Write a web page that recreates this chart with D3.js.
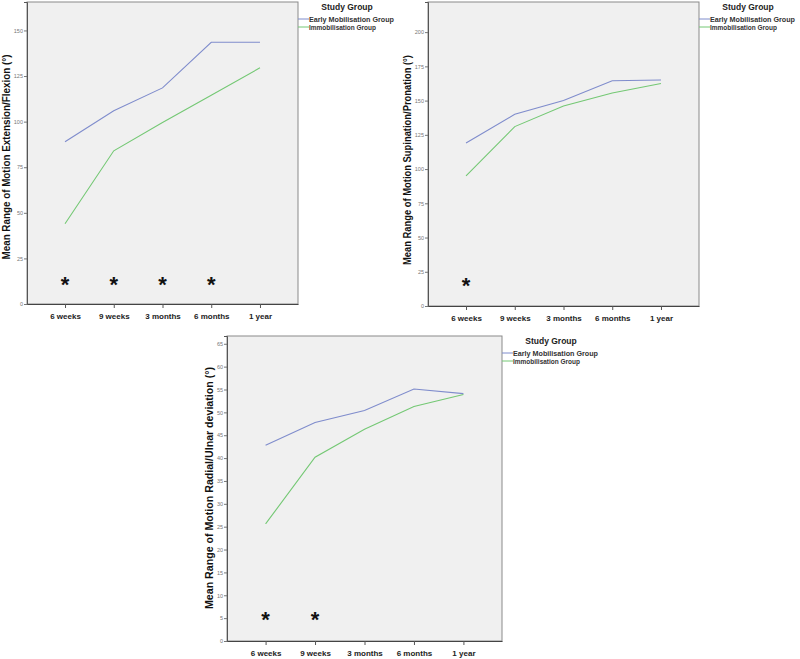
<!DOCTYPE html>
<html><head><meta charset="utf-8">
<script src="https://cdn.jsdelivr.net/npm/d3@7/dist/d3.min.js"></script>
<style>body{margin:0;background:#fff}svg{display:block;font-family:"Liberation Sans",Arial,sans-serif}</style>
</head><body><svg id="c" width="800" height="659"></svg>
<script>
const categories = ["6 weeks","9 weeks","3 months","6 months","1 year"];
const seriesNames = ["Early Mobilisation Group","Immobilisation Group"];
const legendTitle = "Study Group";
// Panel 1: Extension/Flexion
const p1Early = [89, 106, 118.5, 143.5, 143.5];
const p1Immob = [44, 84, 99.5, 114.5, 129.5];
const p1Ticks = [0,25,50,75,100,125,150];
const p1Stars = ["6 weeks","9 weeks","3 months","6 months"];
const p1StarValue = 12.5;
// Panel 2: Supination/Pronation
const p2Early = [119, 140, 150, 164.5, 165];
const p2Immob = [95, 131, 146, 155.5, 162.5];
const p2Ticks = [0,25,50,75,100,125,150,175,200];
const p2Stars = ["6 weeks"];
const p2StarValue = 17.5;
// Panel 3: Radial/Ulnar deviation
const p3Early = [42.8, 47.8, 50.4, 55.1, 54.1];
const p3Immob = [25.6, 40.2, 46.3, 51.3, 53.9];
const p3Ticks = [0,5,10,15,20,25,30,35,40,45,50,55,60,65];
const p3Stars = ["6 weeks","9 weeks"];
const p3StarValue = 5.5;

const colors = ["#7f8ccc","#74c874"];
const svg = d3.select("#c");

function panel(o){
  const g = svg.append("g");
  const x = d3.scalePoint().domain(categories).range([o.l,o.r]).padding(0.78);
  const y = d3.scaleLinear().domain([0,o.ymax]).range([o.b,o.t]);
  g.append("rect").attr("x",o.l).attr("y",o.t).attr("width",o.r-o.l).attr("height",o.b-o.t)
    .attr("fill","#f0f0f0").attr("stroke","#8a8a8a").attr("stroke-width",1);
  // y axis
  const ya = g.append("g").attr("transform",`translate(${o.l},0)`)
    .call(d3.axisLeft(y).tickValues(o.ticks).tickSize(3).tickPadding(1).tickFormat(d3.format("d")));
  ya.select(".domain").attr("stroke","#555");
  ya.selectAll(".tick line").attr("stroke","#777");
  ya.selectAll("text").attr("font-size",5.5).attr("fill","#777");
  // x axis
  const xa = g.append("g").attr("transform",`translate(0,${o.b})`)
    .call(d3.axisBottom(x).tickSize(4).tickPadding(5).tickSizeOuter(0));
  xa.select(".domain").attr("stroke","#444");
  xa.selectAll(".tick line").attr("stroke","#555");
  xa.selectAll("text").attr("font-size",8).attr("font-weight","bold").attr("fill","#222");
  // lines
  const line = d3.line().x((d,i)=>x(categories[i])).y(d=>y(d));
  [o.early,o.immob].forEach((s,k)=>{
    g.append("path").datum(s).attr("d",line).attr("fill","none")
      .attr("stroke",colors[k]).attr("stroke-width",1.1);
  });
  // stars
  g.selectAll(".star").data(o.stars).join("text").attr("class","star")
    .attr("x",d=>x(d)).attr("y",y(o.starV)+11).attr("text-anchor","middle")
    .attr("font-size",22).attr("font-weight","bold").attr("fill","#111").text("*");
  // y label
  g.append("text").attr("transform",`translate(${o.lx},${o.ly}) rotate(-90)`)
    .attr("text-anchor","middle").attr("font-size",10.5).attr("font-weight","bold").attr("fill","#111")
    .attr("textLength",o.llen).attr("lengthAdjust","spacingAndGlyphs").text(o.label);
  // legend
  g.append("text").attr("x",o.r+49).attr("y",o.t+8).attr("text-anchor","middle")
    .attr("font-size",8.5).attr("font-weight","bold").attr("fill","#222").text(legendTitle);
  seriesNames.forEach((n,k)=>{
    const yy = o.t+17+k*8;
    g.append("line").attr("x1",o.r).attr("x2",o.r+11).attr("y1",yy).attr("y2",yy)
      .attr("stroke",colors[k]).attr("stroke-width",1);
    g.append("text").attr("x",o.r+11).attr("y",yy+2.5).attr("font-size",6.8).attr("font-weight","bold")
      .attr("fill","#333").attr("textLength",k===0?85:67).attr("lengthAdjust","spacingAndGlyphs").text(n);
  });
}

panel({l:27,r:298,t:2,b:304,ymax:165.6,ticks:p1Ticks,early:p1Early,immob:p1Immob,stars:p1Stars,starV:p1StarValue,
  label:"Mean Range of Motion Extension/Flexion (°)",lx:10,ly:157,llen:205});
panel({l:428,r:699,t:2,b:306,ymax:222,ticks:p2Ticks,early:p2Early,immob:p2Immob,stars:p2Stars,starV:p2StarValue,
  label:"Mean Range of Motion Supination/Pronation (°)",lx:411,ly:160,llen:210});
panel({l:227,r:502,t:336,b:641,ymax:66.7,ticks:p3Ticks,early:p3Early,immob:p3Immob,stars:p3Stars,starV:p3StarValue,
  label:"Mean Range of Motion Radial/Ulnar deviation (°)",lx:213,ly:488,llen:242});
</script></body></html>
